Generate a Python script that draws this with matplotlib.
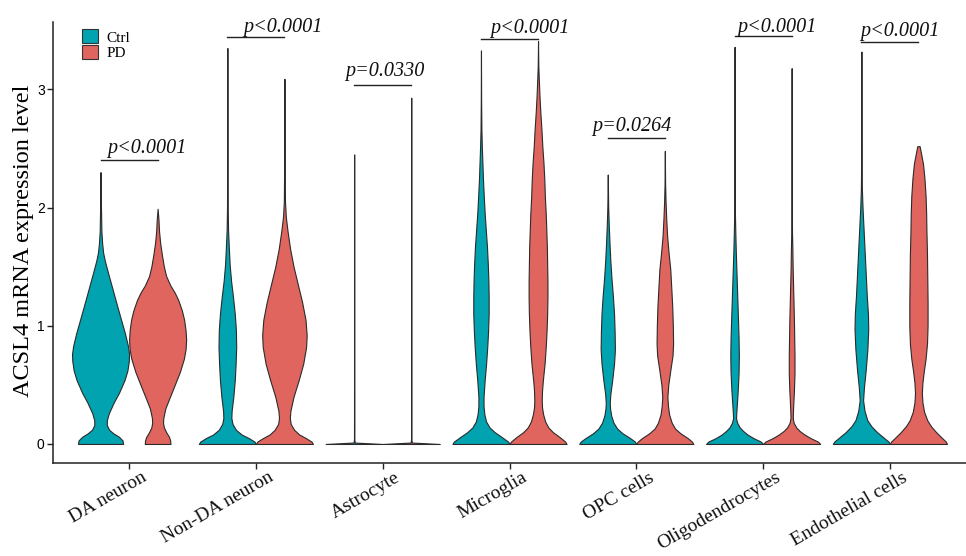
import matplotlib
matplotlib.use("Agg")
import matplotlib.pyplot as plt
from matplotlib.patches import Patch
import matplotlib.transforms as mtransforms

# ---------------- data ----------------
categories = ["DA neuron", "Non-DA neuron", "Astrocyte", "Microglia",
              "OPC cells", "Oligodendrocytes", "Endothelial cells"]
groups = ["Ctrl", "PD"]
colors = {"Ctrl": "#00A3AF", "PD": "#E0655E"}

# violin density profiles: y levels and relative half-widths
da_ctrl_y = [0, 0.03, 0.06, 0.09, 0.12, 0.16, 0.20, 0.26, 0.35, 0.43, 0.54, 0.62, 0.70, 0.76, 0.83, 0.94, 1.05, 1.17, 1.31, 1.45, 1.55, 1.62, 1.70, 1.80, 2.00, 2.30]
da_ctrl_w = [0.79, 0.77, 0.65, 0.45, 0.30, 0.22, 0.22, 0.29, 0.46, 0.64, 0.84, 0.94, 0.99, 1.0, 0.96, 0.85, 0.72, 0.58, 0.42, 0.26, 0.15, 0.09, 0.055, 0.03, 0.015, 0.0]
da_pd_y = [0, 0.03, 0.06, 0.10, 0.14, 0.18, 0.22, 0.30, 0.38, 0.50, 0.61, 0.72, 0.80, 0.88, 0.96, 1.05, 1.13, 1.22, 1.28, 1.34, 1.42, 1.50, 1.60, 1.70, 1.80, 1.90, 1.99]
da_pd_w = [0.45, 0.44, 0.40, 0.30, 0.22, 0.19, 0.20, 0.27, 0.40, 0.60, 0.78, 0.92, 0.98, 1.0, 0.98, 0.93, 0.85, 0.72, 0.60, 0.45, 0.30, 0.22, 0.15, 0.09, 0.05, 0.03, 0.0]

nda_ctrl_y = [0, 0.02, 0.05, 0.08, 0.12, 0.17, 0.22, 0.28, 0.40, 0.54, 0.68, 0.82, 0.96, 1.10, 1.24, 1.38, 1.52, 1.67, 1.81, 2.00, 2.50, 3.35]
nda_ctrl_w = [1.0, 0.95, 0.75, 0.50, 0.30, 0.18, 0.14, 0.15, 0.21, 0.26, 0.29, 0.31, 0.30, 0.26, 0.20, 0.13, 0.08, 0.05, 0.025, 0.012, 0.005, 0.0]
nda_pd_y = [0, 0.02, 0.05, 0.08, 0.12, 0.17, 0.22, 0.28, 0.40, 0.54, 0.68, 0.82, 0.92, 1.05, 1.20, 1.35, 1.50, 1.65, 1.80, 1.92, 2.05, 2.40, 3.09]
nda_pd_w = [1.0, 0.95, 0.75, 0.52, 0.34, 0.22, 0.19, 0.21, 0.32, 0.50, 0.66, 0.76, 0.78, 0.74, 0.62, 0.47, 0.32, 0.20, 0.11, 0.05, 0.02, 0.008, 0.0]

ast_ctrl_y = [0, 0.012, 0.04, 0.30, 2.45]
ast_ctrl_w = [1.0, 0.02, 0.006, 0.004, 0.0]
ast_pd_y = [0, 0.012, 0.04, 0.30, 2.93]
ast_pd_w = [1.0, 0.02, 0.006, 0.004, 0.0]

mic_ctrl_y = [0, 0.02, 0.06, 0.10, 0.14, 0.19, 0.25, 0.32, 0.40, 0.54, 0.68, 0.82, 0.96, 1.10, 1.24, 1.38, 1.52, 1.67, 1.81, 1.95, 2.09, 2.24, 2.38, 2.52, 2.66, 2.90, 3.33]
mic_ctrl_w = [1.0, 0.95, 0.72, 0.48, 0.30, 0.18, 0.12, 0.09, 0.09, 0.13, 0.18, 0.22, 0.25, 0.27, 0.27, 0.26, 0.24, 0.21, 0.17, 0.13, 0.10, 0.07, 0.05, 0.03, 0.015, 0.006, 0.0]
mic_pd_y = [0, 0.02, 0.06, 0.10, 0.14, 0.19, 0.25, 0.31, 0.37, 0.45, 0.54, 0.68, 0.82, 0.96, 1.10, 1.24, 1.38, 1.52, 1.67, 1.81, 1.95, 2.09, 2.24, 2.38, 2.52, 2.66, 2.81, 2.95, 3.10, 3.20, 3.41]
mic_pd_w = [1.0, 0.95, 0.75, 0.52, 0.36, 0.25, 0.18, 0.14, 0.13, 0.14, 0.17, 0.23, 0.27, 0.30, 0.32, 0.33, 0.33, 0.32, 0.31, 0.29, 0.27, 0.24, 0.22, 0.19, 0.15, 0.12, 0.08, 0.05, 0.025, 0.01, 0.0]

opc_ctrl_y = [0, 0.02, 0.05, 0.09, 0.13, 0.18, 0.24, 0.30, 0.35, 0.42, 0.55, 0.68, 0.80, 0.95, 1.10, 1.25, 1.40, 1.55, 1.70, 1.85, 2.00, 2.28]
opc_ctrl_w = [1.0, 0.95, 0.78, 0.52, 0.33, 0.20, 0.12, 0.08, 0.07, 0.09, 0.16, 0.22, 0.25, 0.24, 0.22, 0.18, 0.13, 0.09, 0.06, 0.035, 0.015, 0.0]
opc_pd_y = [0, 0.02, 0.05, 0.09, 0.13, 0.18, 0.25, 0.32, 0.40, 0.50, 0.62, 0.75, 0.85, 1.00, 1.16, 1.30, 1.48, 1.62, 1.76, 1.90, 2.05, 2.20, 2.48]
opc_pd_w = [1.0, 0.95, 0.80, 0.55, 0.36, 0.24, 0.15, 0.11, 0.09, 0.12, 0.19, 0.27, 0.29, 0.28, 0.26, 0.23, 0.19, 0.13, 0.08, 0.05, 0.025, 0.01, 0.0]

oli_ctrl_y = [0, 0.02, 0.05, 0.08, 0.11, 0.14, 0.18, 0.22, 0.30, 0.45, 0.60, 0.75, 0.90, 1.05, 1.20, 1.35, 1.50, 1.65, 1.80, 1.95, 2.20, 3.36]
oli_ctrl_w = [1.0, 0.92, 0.66, 0.45, 0.30, 0.18, 0.09, 0.05, 0.07, 0.11, 0.14, 0.15, 0.14, 0.12, 0.10, 0.08, 0.06, 0.04, 0.025, 0.012, 0.006, 0.0]
oli_pd_y = [0, 0.02, 0.05, 0.08, 0.11, 0.14, 0.18, 0.22, 0.30, 0.45, 0.60, 0.75, 0.90, 1.05, 1.20, 1.35, 1.50, 1.65, 1.80, 2.00, 3.18]
oli_pd_w = [1.0, 0.92, 0.66, 0.45, 0.28, 0.16, 0.07, 0.04, 0.05, 0.08, 0.10, 0.10, 0.09, 0.08, 0.065, 0.05, 0.035, 0.025, 0.012, 0.006, 0.0]

end_ctrl_y = [0, 0.02, 0.05, 0.10, 0.15, 0.20, 0.28, 0.37, 0.48, 0.62, 0.80, 0.97, 1.10, 1.25, 1.40, 1.55, 1.70, 1.85, 2.00, 2.15, 2.40, 3.32]
end_ctrl_w = [1.0, 0.95, 0.80, 0.55, 0.35, 0.21, 0.11, 0.06, 0.09, 0.15, 0.21, 0.24, 0.23, 0.19, 0.16, 0.13, 0.10, 0.07, 0.04, 0.018, 0.007, 0.0]
end_pd_y = [0, 0.02, 0.05, 0.10, 0.15, 0.20, 0.27, 0.35, 0.43, 0.52, 0.62, 0.72, 0.85, 1.00, 1.20, 1.40, 1.60, 1.80, 1.95, 2.10, 2.25, 2.37, 2.46, 2.52]
end_pd_w = [1.0, 0.96, 0.83, 0.62, 0.44, 0.31, 0.20, 0.14, 0.12, 0.14, 0.19, 0.25, 0.30, 0.32, 0.32, 0.31, 0.30, 0.28, 0.27, 0.25, 0.21, 0.16, 0.09, 0.04]

profiles = {
    "DA neuron": ((da_ctrl_y, da_ctrl_w), (da_pd_y, da_pd_w)),
    "Non-DA neuron": ((nda_ctrl_y, nda_ctrl_w), (nda_pd_y, nda_pd_w)),
    "Astrocyte": ((ast_ctrl_y, ast_ctrl_w), (ast_pd_y, ast_pd_w)),
    "Microglia": ((mic_ctrl_y, mic_ctrl_w), (mic_pd_y, mic_pd_w)),
    "OPC cells": ((opc_ctrl_y, opc_ctrl_w), (opc_pd_y, opc_pd_w)),
    "Oligodendrocytes": ((oli_ctrl_y, oli_ctrl_w), (oli_pd_y, oli_pd_w)),
    "Endothelial cells": ((end_ctrl_y, end_ctrl_w), (end_pd_y, end_pd_w)),
}

# significance annotations
p_labels = ["p<0.0001", "p<0.0001", "p=0.0330", "p<0.0001", "p=0.0264", "p<0.0001", "p<0.0001"]
p_bar_y = [2.40, 3.44, 3.04, 3.43, 2.59, 3.45, 3.40]
p_text_x = [0.828, 1.896, 2.703, 3.846, 4.656, 5.792, 6.764]
p_text_y = [2.46, 3.49, 3.11, 3.48, 2.645, 3.49, 3.455]

yticks = [0, 1, 2, 3]

# ---------------- plot ----------------
W, H = 966, 556
fig = plt.figure(figsize=(W / 100, H / 100), dpi=100)
ax = fig.add_axes([53 / W, 1 - 463 / H, 1 - 53 / W, (463 - 21.7) / H])

half = 0.225
edge = "#2b2b2b"
serif = "Liberation Serif"

for i, cat in enumerate(categories):
    pos = i + 1
    for g, off, (ys, ws) in zip(groups, (-half, half), profiles[cat]):
        c = pos + off
        left = [c - w * half for w in ws]
        right = [c + w * half for w in ws]
        ax.fill_betweenx(ys, left, right, facecolor=colors[g], edgecolor=edge,
                         linewidth=0.8, zorder=2)

for i, (lab, by, tx, ty) in enumerate(zip(p_labels, p_bar_y, p_text_x, p_text_y)):
    pos = i + 1
    ax.plot([pos - half, pos + half], [by, by], color="#222222", lw=1.0, zorder=3)
    ax.text(tx, ty, lab, fontsize=14.5, family=serif, style="italic",
            ha="left", va="baseline", color="#111111", zorder=4)

ax.set_xlim(0.4, 7.6)
ax.set_ylim(-0.161, 3.573)
ax.set_yticks(yticks)
ax.set_yticklabels([str(t) for t in yticks], family="Liberation Sans", fontsize=10)
ax.set_xticks(range(1, len(categories) + 1))
ax.tick_params(axis="x", labelbottom=False)

# rotated category labels (anchored at right-top, shifted right of the tick)
lbl_tr = ax.get_xaxis_transform() + mtransforms.ScaledTranslation(
    12 / 100, -6 / 100, fig.dpi_scale_trans)
for i, cat in enumerate(categories):
    ax.text(i + 1, 0, cat, transform=lbl_tr, family=serif, fontsize=14,
            rotation=30, ha="right", va="top", rotation_mode="anchor",
            color="#111111", clip_on=False)

for s in ["top", "right"]:
    ax.spines[s].set_visible(False)
for s in ["left", "bottom"]:
    ax.spines[s].set_linewidth(1.1)
    ax.spines[s].set_color("#222222")
ax.tick_params(axis="both", length=4, width=1.0, color="#222222")
ax.tick_params(axis="y", pad=2)

fig.text(24 / W, 1 - 241 / H, "ACSL4 mRNA expression level", rotation=90,
         ha="center", va="center", family=serif, fontsize=17.5)

handles = [Patch(facecolor=colors[g], edgecolor="#333333", linewidth=0.8) for g in groups]
ax.legend(handles, groups, loc="upper left",
          bbox_to_anchor=((82.3 - 53) / 913, (463 - 29.3) / 441.3),
          frameon=False, borderpad=0, labelspacing=0.0, handlelength=1.0,
          handleheight=1.05, handletextpad=0.6, borderaxespad=0,
          prop={"family": serif, "size": 11})

fig.savefig("out.png", dpi=100)
